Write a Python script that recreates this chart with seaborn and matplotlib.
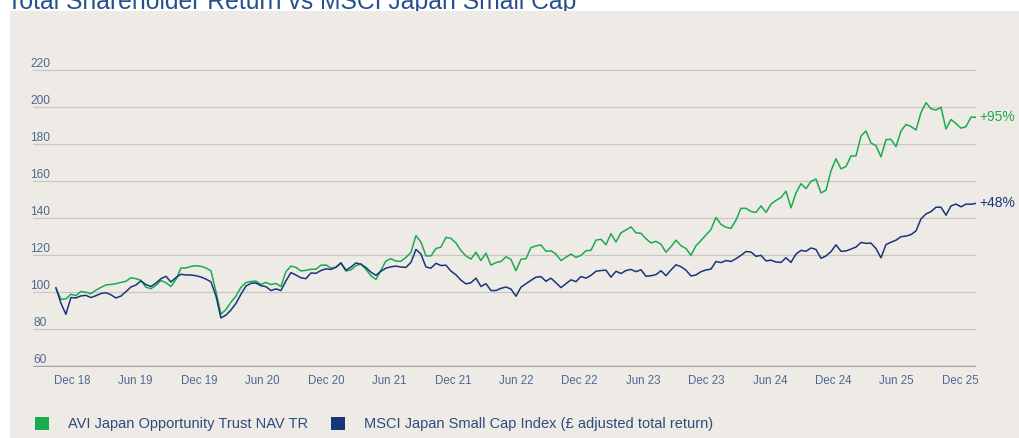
import pandas as pd
import matplotlib
matplotlib.use("Agg")
import matplotlib.pyplot as plt
import matplotlib.transforms as mtransforms
from matplotlib.patches import Patch, Rectangle
import seaborn as sns

# fortnightly points, launch (Oct 18) to Jan 26
START = "2018-10-19"
END = "2026-01-21"

avi_nav = [
    102.3, 96.0, 96.3, 98.8, 98.0, 100.3, 99.9, 99.1, 101.0, 102.5,
    103.8, 104.1, 104.5, 105.2, 105.8, 107.7, 107.2, 106.3, 102.6, 101.8,
    103.6, 106.2, 105.0, 103.0, 106.7, 113.0, 113.0, 113.8, 114.2, 113.9,
    113.0, 111.5, 100.3, 88.0, 90.5, 94.5, 97.8, 102.5, 105.1, 105.7,
    105.9, 104.1, 105.2, 104.0, 104.6, 103.0, 111.0, 114.0, 113.3, 111.4,
    111.7, 112.3, 112.3, 114.5, 114.6, 113.0, 113.3, 115.5, 111.3, 112.0,
    114.2, 115.2, 112.2, 108.8, 106.8, 111.8, 116.8, 118.0, 116.7, 116.6,
    118.7, 121.4, 130.5, 127.0, 119.5, 119.5, 123.5, 124.3, 129.5, 129.0,
    126.5, 122.4, 119.5, 117.8, 121.5, 117.0, 121.0, 114.5, 115.9, 116.5,
    119.0, 117.6, 111.5, 117.7, 118.0, 124.0, 124.9, 125.4, 122.0, 122.3,
    120.5, 117.0, 118.8, 120.5, 118.7, 119.8, 122.3, 122.5, 128.0, 128.5,
    125.5, 131.5, 127.0, 132.0, 133.5, 135.2, 132.0, 131.7, 128.8, 126.5,
    127.4, 125.8, 121.5, 124.5, 128.0, 125.0, 123.5, 119.8, 125.0, 127.8,
    130.8, 133.8, 140.3, 136.5, 135.0, 134.4, 138.8, 145.2, 145.2, 143.5,
    143.0, 146.5, 143.0, 147.5, 149.5, 151.0, 154.5, 145.5, 153.5, 158.5,
    155.8, 159.8, 161.0, 153.5, 155.0, 165.5, 172.0, 166.5, 167.8, 173.5,
    173.5, 184.2, 187.0, 180.5, 179.0, 173.0, 182.3, 182.5, 178.5, 187.0,
    190.5, 189.4, 187.5, 196.9, 202.3, 199.0, 198.3, 199.8, 188.0, 193.2,
    191.0, 188.5, 189.3, 194.5, 194.4,
]

msci_small_cap = [
    102.3, 94.0, 88.0, 97.0, 96.8, 97.9, 98.2, 97.0, 98.0, 99.2,
    99.6, 98.5, 96.8, 97.8, 100.2, 102.7, 103.8, 106.0, 104.0, 103.0,
    104.8, 107.2, 108.5, 105.4, 107.8, 109.6, 109.2, 109.2, 108.8, 108.1,
    107.0, 105.5, 98.0, 86.0, 87.5, 90.3, 93.8, 98.8, 103.2, 104.7,
    104.9, 103.4, 102.9, 100.8, 101.7, 100.8, 106.0, 110.5, 109.2, 107.7,
    107.2, 110.3, 110.1, 111.6, 112.5, 112.2, 113.4, 115.8, 111.8, 113.5,
    115.7, 115.0, 113.2, 110.7, 109.0, 111.2, 112.9, 113.6, 114.0, 113.5,
    113.3, 116.0, 123.0, 120.5, 113.5, 112.9, 115.5, 114.3, 114.5, 111.3,
    109.3, 106.4, 104.4, 105.0, 107.5, 103.0, 104.5, 100.8, 100.8, 102.0,
    102.7, 101.6, 97.7, 102.6, 104.5, 106.3, 108.0, 108.3, 105.8, 107.5,
    105.0, 102.4, 104.5, 106.6, 105.6, 108.4, 107.5, 109.0, 111.2, 111.6,
    111.8, 108.0, 111.2, 110.0, 111.6, 112.2, 111.0, 112.0, 108.5, 108.8,
    109.4, 111.5, 108.8, 111.9, 114.7, 113.7, 111.8, 108.7, 109.2, 111.0,
    111.9, 112.4, 116.5, 115.9, 117.0, 116.5, 118.0, 119.8, 121.9, 121.6,
    119.3, 119.8, 116.8, 117.2, 116.2, 116.0, 118.5, 116.0, 120.5, 122.5,
    122.0, 123.8, 123.0, 118.2, 119.5, 121.8, 125.5, 122.0, 122.2, 123.2,
    124.3, 126.8, 126.3, 126.4, 123.5, 118.5, 125.6, 126.9, 128.0, 129.9,
    130.2, 131.0, 133.0, 139.5, 142.2, 143.4, 145.8, 145.8, 141.5, 146.5,
    147.5, 146.0, 147.5, 147.4, 147.9,
]

series_names = [
    "AVI Japan Opportunity Trust NAV TR",
    "MSCI Japan Small Cap Index (£ adjusted total return)",
]
end_labels = ["+95%", "+48%"]
colors = ["#1BAB4D", "#17367A"]
y_ticks = [60, 80, 100, 120, 140, 160, 180, 200, 220]
tick_months = pd.date_range("2018-12-01", "2025-12-01", freq="6MS")

TITLE = "Total Shareholder Return vs MSCI Japan Small Cap"
PANEL = "#EEEBE7"
TEXT_BLUE = "#4E6790"

dates = pd.date_range(START, END, periods=len(avi_nav))
df = pd.concat([
    pd.DataFrame({"date": dates, "value": avi_nav, "series": series_names[0]}),
    pd.DataFrame({"date": dates, "value": msci_small_cap, "series": series_names[1]}),
])

sns.set_style("white")
plt.rcParams["font.family"] = ["Liberation Sans", "DejaVu Sans"]

fig = plt.figure(figsize=(10.2, 4.38), dpi=100)
fig.patch.set_facecolor("white")
fig.add_artist(Rectangle((10 / 1020, 0), 1, 1 - 11 / 438, transform=fig.transFigure,
                         facecolor=PANEL, edgecolor="none", zorder=0))
# title is cropped at the top edge, as in the source image
fig.text(7 / 1020, 1 - 9 / 438, TITLE, fontsize=17.8, color="#28508E",
         ha="left", va="baseline", zorder=-1)

ax = fig.add_axes([33 / 1020, (438 - 367) / 438, 943 / 1020, (367 - 68) / 438])
ax.set_facecolor("none")

sns.lineplot(data=df, x="date", y="value", hue="series", palette=colors,
             linewidth=1.1, legend=False, ax=ax, zorder=3)

ax.set_ylim(59.5, 221)
ax.set_xlim(pd.Timestamp(START) - pd.Timedelta(days=66), pd.Timestamp(END))
ax.set_xlabel("")
ax.set_ylabel("")
for s in ax.spines.values():
    s.set_visible(False)

ax.set_yticks(y_ticks)
ax.grid(axis="y", color="#CAC7C3", linewidth=0.9)
ax.grid(axis="x", visible=False)
ax.axhline(60, color="#A3A3A3", linewidth=1.0, zorder=2)

ax.set_xticks(tick_months + pd.Timedelta(days=5))
ax.set_xticklabels([d.strftime("%b %y") for d in tick_months])
ax.tick_params(axis="x", length=0, pad=5.5, labelsize=8.3, labelcolor=TEXT_BLUE)
ax.tick_params(axis="y", length=0, pad=0, labelsize=8.6, labelcolor=TEXT_BLUE)

# y labels sit centred just above their gridline
shift = mtransforms.ScaledTranslation(7 / 100, 7.5 / 100, fig.dpi_scale_trans)
for lbl in ax.get_yticklabels():
    lbl.set_ha("center")
    lbl.set_transform(lbl.get_transform() + shift)

for vals, lab, col in zip([avi_nav, msci_small_cap], end_labels, colors):
    ax.annotate(lab, xy=(dates[-1], vals[-1]), xytext=(2.5, 0), textcoords="offset points",
                va="center", ha="left", fontsize=10, color=col, annotation_clip=False)

handles = [Patch(facecolor=c, edgecolor="none") for c in colors]
fig.legend(handles, series_names, loc="center left", bbox_to_anchor=(35 / 1020, 1 - 424 / 438),
           ncol=2, frameon=False, fontsize=10.5, labelcolor="#2E4B7C",
           handlelength=0.96, handleheight=0.96, handletextpad=1.3, columnspacing=1.6,
           borderpad=0, borderaxespad=0)

fig.savefig("out.png", dpi=100)
